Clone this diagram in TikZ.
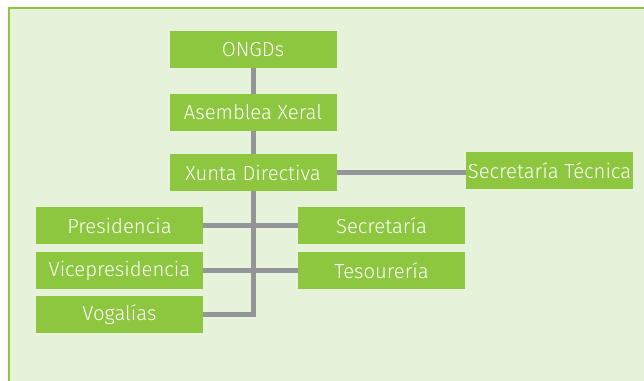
\documentclass[tikz,border=0pt]{standalone}
\usepackage{fontspec}
\setmainfont{Fira Sans}[UprightFont=* Light]
\usetikzlibrary{positioning}
\definecolor{BoxGreen}{HTML}{8DC63F}
\definecolor{PaleGreen}{HTML}{E6F2D9}
\definecolor{LineGray}{HTML}{939598}

\begin{document}
\begin{tikzpicture}[x=1pt, y=1pt,
    box/.style={fill=BoxGreen, text=white, minimum width=167pt,
      minimum height=37pt, inner sep=0pt,
      font=\fontsize{20.3}{24}\selectfont},
    link/.style={LineGray, line width=5pt}]
  \useasboundingbox (0,0) rectangle (644,380);
  \clip (0,0) rectangle (644,380);

  % frame
  \fill[PaleGreen] (8,-10) rectangle (660,373);
  \draw[BoxGreen, line width=2pt] (9,-10) -- (9,372) -- (660,372);

  \coordinate (Top) at (253,330.5);

  \node[box] (ongds)     at (Top)         {ONGDs};
  \node[box] (asemblea)  at (253,267.5)   {Asemblea Xeral};
  \node[box] (xunta)     at (253,207.5)   {Xunta Directiva};
  \node[box] (sectecnica) at (549.5,209.5) {Secretaría Técnica};

  \node[box] (presidencia)     at (119.5,154.5) {Presidencia};
  \node[box] (vicepresidencia) at (119.5,109.5) {Vicepresidencia};
  \node[box] (vogalias)        at (119.5,65.5)  {Vogalías};
  \node[box] (secretaria)      at (381.5,154.5) {Secretaría};
  \node[box] (tesoureria)      at (381.5,109.5) {Tesourería};

  \draw[link] (ongds) -- (asemblea);
  \draw[link] (asemblea) -- (xunta);
  \draw[link] (xunta.east) -- (xunta.east -| sectecnica.west);
  \draw[link] (xunta) |- (vogalias);
  \draw[link] (presidencia.east) -- (presidencia.east -| secretaria.west);
  \draw[link] (vicepresidencia.east) -- (vicepresidencia.east -| tesoureria.west);
\end{tikzpicture}
\end{document}
